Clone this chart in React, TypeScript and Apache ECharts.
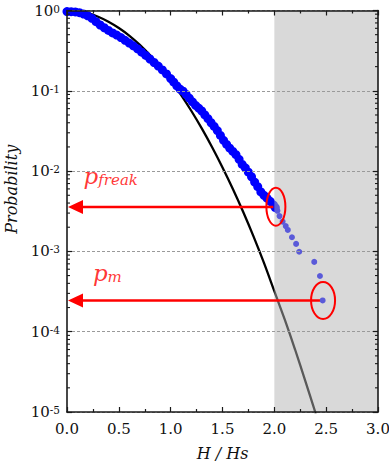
import React, { useEffect, useRef } from "react";
import * as echarts from "echarts";

// ---- data ----
const X_MIN = 0;
const X_MAX = 3;
const X_STEP = 0.5;
const Y_MIN = 1e-5;
const Y_MAX = 1;

// Rayleigh-like reference curve (black line)
const H_CURVE = [0, 0.1, 0.2, 0.3, 0.4, 0.5, 0.6, 0.7, 0.8, 0.9, 1.0, 1.1, 1.2, 1.3, 1.4, 1.5, 1.6, 1.7, 1.8, 1.9, 2.0, 2.1, 2.2, 2.3, 2.4];
const P_CURVE = [1.0, 0.98, 0.925, 0.835, 0.725, 0.605, 0.487, 0.375, 0.278, 0.198, 0.135, 0.089, 0.056, 0.034, 0.0198, 0.0111, 0.006, 0.0031, 0.00153, 0.00072, 0.00032, 0.000142, 0.00006, 0.000024, 0.0000095];

// measured exceedance probability, dense part (blue band)
const H_BAND = [0, 0.04, 0.08, 0.12, 0.16, 0.2, 0.24, 0.28, 0.32, 0.36, 0.4, 0.44, 0.48, 0.52, 0.56, 0.6, 0.64, 0.68, 0.72, 0.76, 0.8, 0.84, 0.88, 0.92, 0.96, 1.0, 1.03, 1.06, 1.09, 1.12, 1.15, 1.18, 1.21, 1.24, 1.27, 1.3, 1.33, 1.36, 1.39, 1.42, 1.45, 1.48, 1.51, 1.54, 1.57, 1.6, 1.63, 1.66, 1.69, 1.72, 1.75, 1.78, 1.81, 1.84, 1.87, 1.9, 1.93, 1.96, 1.99, 2.01];
const P_BAND = [0.97, 0.968, 0.96, 0.94, 0.905, 0.86, 0.8, 0.725, 0.66, 0.61, 0.565, 0.525, 0.495, 0.46, 0.425, 0.393, 0.363, 0.333, 0.303, 0.276, 0.249, 0.225, 0.203, 0.182, 0.162, 0.142, 0.128, 0.115, 0.105, 0.099, 0.09, 0.081, 0.073, 0.066, 0.061, 0.056, 0.05, 0.045, 0.04, 0.036, 0.032, 0.0278, 0.0242, 0.0215, 0.0193, 0.0176, 0.016, 0.014, 0.0121, 0.011, 0.0097, 0.0085, 0.0073, 0.0064, 0.0055, 0.005, 0.0046, 0.0042, 0.0038, 0.0035];

// measured exceedance probability, sparse tail
const H_TAIL = [2.03, 2.05, 2.08, 2.11, 2.13, 2.17, 2.21, 2.24, 2.385, 2.44, 2.466];
const P_TAIL = [0.0032, 0.00275, 0.00235, 0.00207, 0.00185, 0.0015, 0.00124, 0.00099, 0.00074, 0.000494, 0.000245];

// shaded freak-wave region
const SHADE_FROM = 2.0;
const SHADE_TO = 3.0;

// annotations
const P_FREAK = 0.00357;
const P_M = 0.000245;
const ARROW_P = [P_FREAK, P_M];
const ARROW_END_H = [1.99, 2.44];
const ELLIPSE_H = [2.015, 2.47];
const ELLIPSE_P = [0.0036, 0.000245];
const LABEL_H = [0.155, 0.245];
const LABEL_P = [0.0087, 0.00054];
const LABEL_SUB = ["freak", "m"];

const X_NAME = "H / Hs";
const Y_NAME = "Probability";

// minor log ticks (2..9 within each decade)
const MINOR_MULT = [2, 3, 4, 5, 6, 7, 8, 9];
const DECADES = [-5, -4, -3, -2, -1];

// ---- styles ----
const FONT = "DejaVu Serif";
const AXIS_COLOR = "#1a1a1a";
const TEXT_COLOR = "#111111";
const RED = "#ff0000";
const BLUE = "#0000ff";

export default function App() {
  const ref = useRef<HTMLDivElement>(null);

  useEffect(() => {
    if (!ref.current) return;
    const chart = echarts.init(ref.current, undefined, { renderer: "svg" });

    const minorTicks: number[][] = [];
    DECADES.forEach((d) => MINOR_MULT.forEach((m) => minorTicks.push([0, m * Math.pow(10, d)])));

    const xAxisBase = {
      type: "value",
      min: X_MIN,
      max: X_MAX,
      interval: X_STEP,
      axisLine: { show: true, onZero: false, lineStyle: { color: AXIS_COLOR, width: 1.6 } },
      axisTick: { show: true, inside: true, length: 5, lineStyle: { color: AXIS_COLOR, width: 1.2 } },
      minorTick: { show: true, splitNumber: 2, length: 3, lineStyle: { color: AXIS_COLOR, width: 1.2 } },
      splitLine: { show: false },
      z: 6,
    };

    const yAxisBase = {
      type: "log",
      logBase: 10,
      min: Y_MIN,
      max: Y_MAX,
      axisLine: { show: true, onZero: false, lineStyle: { color: AXIS_COLOR, width: 1.6 } },
      axisTick: { show: true, inside: true, length: 5, lineStyle: { color: AXIS_COLOR, width: 1.2 } },
      z: 6,
    };

    const option: any = {
      animation: false,
      backgroundColor: "#ffffff",
      textStyle: { fontFamily: FONT },
      grid: { left: 67, right: 11, top: 10.5, bottom: 54, containLabel: false, outerBoundsMode: "none" },
      xAxis: [
        {
          ...xAxisBase,
          position: "bottom",
          name: X_NAME,
          nameLocation: "middle",
          nameGap: 33,
          nameTextStyle: { fontFamily: FONT, fontSize: 16, fontStyle: "italic", color: TEXT_COLOR },
          axisLabel: {
            show: true,
            margin: 9,
            fontFamily: FONT,
            fontSize: 15,
            color: TEXT_COLOR,
            formatter: (v: number) => v.toFixed(1),
          },
        },
        {
          ...xAxisBase,
          position: "top",
          axisLabel: { show: false },
        },
      ],
      yAxis: [
        {
          ...yAxisBase,
          position: "left",
          name: Y_NAME,
          nameLocation: "middle",
          nameGap: 39,
          nameTextStyle: {
            fontFamily: FONT,
            fontSize: 16,
            fontStyle: "italic",
            color: TEXT_COLOR,
            padding: [0, 0, 0, 44],
          },
          splitLine: { show: true, lineStyle: { color: "#9a9a9a", width: 1, type: [3, 2] } },
          axisLabel: {
            show: true,
            margin: 7,
            fontFamily: FONT,
            formatter: (v: number) => {
              const e = Math.round(Math.log10(v));
              return `{b|10}{s|${e}}`;
            },
            rich: {
              b: { fontFamily: FONT, fontSize: 15, color: TEXT_COLOR },
              s: { fontFamily: FONT, fontSize: 10.5, color: TEXT_COLOR, verticalAlign: "top" },
            },
          },
        },
        {
          ...yAxisBase,
          position: "right",
          axisLabel: { show: false },
          splitLine: { show: false },
        },
      ],
      series: [
        {
          name: "Rayleigh",
          type: "line",
          data: H_CURVE.map((h, i) => [h, P_CURVE[i]]),
          smooth: 0.3,
          showSymbol: false,
          symbol: "none",
          clip: true,
          lineStyle: { color: "#000000", width: 2.3 },
          z: 2,
        },
        {
          name: "measured",
          type: "scatter",
          data: H_BAND.map((h, i) => [h, P_BAND[i]]),
          symbol: "circle",
          symbolSize: 9,
          itemStyle: { color: BLUE, opacity: 1 },
          z: 3,
        },
        {
          name: "measured tail",
          type: "scatter",
          data: H_TAIL.map((h, i) => [h, P_TAIL[i]]),
          symbol: "circle",
          symbolSize: 6,
          itemStyle: { color: BLUE, opacity: 1 },
          z: 3,
        },
        {
          name: "shade",
          type: "custom",
          z: 4,
          silent: true,
          data: [[SHADE_FROM, Y_MIN, SHADE_TO, Y_MAX]],
          encode: { x: [0, 2], y: [1, 3] },
          renderItem: (params: any, api: any) => {
            const a = api.coord([api.value(0), api.value(3)]);
            const b = api.coord([api.value(2), api.value(1)]);
            return {
              type: "rect",
              shape: { x: a[0], y: a[1], width: b[0] - a[0], height: b[1] - a[1] },
              style: { fill: "rgba(180,180,180,0.5)" },
            };
          },
        },
        {
          name: "minor ticks",
          type: "custom",
          z: 7,
          silent: true,
          data: minorTicks,
          encode: { x: 0, y: 1 },
          renderItem: (params: any, api: any) => {
            const p = api.value(1);
            const l = api.coord([X_MIN, p]);
            const r = api.coord([X_MAX, p]);
            const st = { stroke: AXIS_COLOR, lineWidth: 1.1 };
            return {
              type: "group",
              children: [
                { type: "line", shape: { x1: l[0], y1: l[1], x2: l[0] + 3, y2: l[1] }, style: st },
                { type: "line", shape: { x1: r[0] - 3, y1: r[1], x2: r[0], y2: r[1] }, style: st },
              ],
            };
          },
        },
        {
          name: "arrows",
          type: "custom",
          z: 8,
          silent: true,
          data: ARROW_P.map((p, i) => [ARROW_END_H[i], p]),
          encode: { x: 0, y: 1 },
          renderItem: (params: any, api: any) => {
            const p = api.value(1);
            const tip = api.coord([X_MIN, p]);
            const end = api.coord([api.value(0), p]);
            return {
              type: "group",
              children: [
                {
                  type: "line",
                  shape: { x1: tip[0] + 12, y1: tip[1], x2: end[0], y2: end[1] },
                  style: { stroke: RED, lineWidth: 2.4 },
                },
                {
                  type: "polygon",
                  shape: { points: [[tip[0] + 1, tip[1]], [tip[0] + 16, tip[1] - 7], [tip[0] + 16, tip[1] + 7]] },
                  style: { fill: RED },
                },
              ],
            };
          },
        },
        {
          name: "ellipses",
          type: "custom",
          z: 8,
          silent: true,
          data: ELLIPSE_H.map((h, i) => [h, ELLIPSE_P[i]]),
          encode: { x: 0, y: 1 },
          renderItem: (params: any, api: any) => {
            const c = api.coord([api.value(0), api.value(1)]);
            const sizes = [
              [9.5, 19],
              [12, 18.5],
            ];
            const s = sizes[params.dataIndex];
            return {
              type: "ellipse",
              shape: { cx: c[0], cy: c[1], rx: s[0], ry: s[1] },
              style: { fill: "none", stroke: RED, lineWidth: 2 },
            };
          },
        },
        {
          name: "labels",
          type: "scatter",
          z: 8,
          silent: true,
          symbolSize: 1,
          itemStyle: { color: "rgba(0,0,0,0)" },
          data: LABEL_H.map((h, i) => ({
            value: [h, LABEL_P[i]],
            label: { formatter: `{p|p}{s|${LABEL_SUB[i]}}` },
          })),
          label: {
            show: true,
            position: "right",
            distance: 0,
            fontFamily: FONT,
            rich: {
              p: { fontFamily: FONT, fontSize: 23, fontStyle: "italic", color: RED },
              s: { fontFamily: FONT, fontSize: 15, fontStyle: "italic", color: RED, verticalAlign: "bottom" },
            },
          },
        },
      ],
    };

    chart.setOption(option);
    return () => chart.dispose();
  }, []);

  return (
    <div
      ref={ref}
      style={{ position: "absolute", left: 0, top: 0, width: 389, height: 466, background: "#fff" }}
    />
  );
}
